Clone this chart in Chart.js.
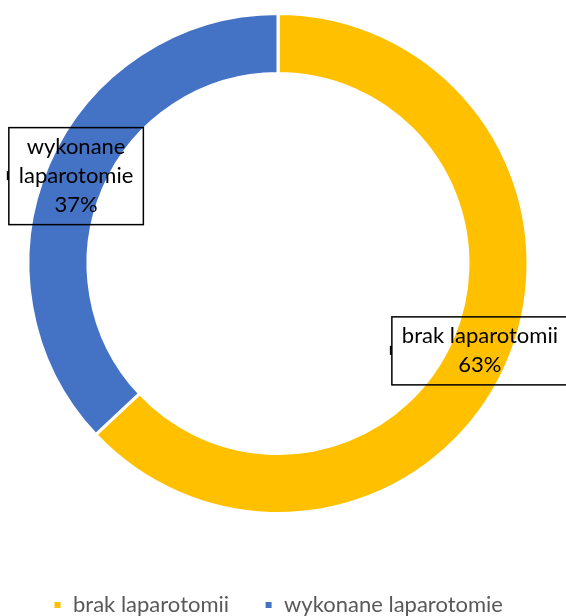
<!DOCTYPE html>
<html>
<head>
<meta charset="utf-8">
<script src="https://cdn.jsdelivr.net/npm/chart.js@4"></script>
<style>
  html, body { margin: 0; padding: 0; background: #fff; }
  #wrap { width: 566px; height: 616px; }
</style>
</head>
<body>
<div id="wrap"><canvas id="laparotomie" width="566" height="616"></canvas></div>
<script>
const categories = ['brak laparotomii', 'wykonane laparotomie'];
const values = [63, 37];
const colors = ['#FFC000', '#4472C4'];

const FONT = 'Lato, "Open Sans", sans-serif';

// wrap a label into lines no wider than maxW
function wrap(ctx, text, maxW) {
    const words = text.split(' ');
    const lines = [];
    let cur = '';
    words.forEach(w => {
        const t = cur ? cur + ' ' + w : w;
        if (ctx.measureText(t).width > maxW && cur) {
            lines.push(cur);
            cur = w;
        } else {
            cur = t;
        }
    });
    if (cur) lines.push(cur);
    return lines;
}

// boxed data labels centred on each slice
const boxLabels = {
    id: 'boxLabels',
    afterDatasetsDraw(chart) {
        const ctx = chart.ctx;
        const meta = chart.getDatasetMeta(0);
        const data = chart.data.datasets[0].data;
        const total = data.reduce((a, b) => a + b, 0);
        ctx.save();
        ctx.font = '22px ' + FONT;
        ctx.textAlign = 'center';
        ctx.textBaseline = 'middle';
        meta.data.forEach((arc, i) => {
            const pos = arc.tooltipPosition();
            const lines = wrap(ctx, chart.data.labels[i], 170);
            lines.push(Math.round(data[i] / total * 100) + '%');
            const lh = 29;
            const w = Math.max(...lines.map(l => ctx.measureText(l).width)) + 20;
            const h = lines.length * lh + 10;
            const x0 = pos.x - w / 2, y0 = pos.y - h / 2;
            ctx.strokeStyle = '#000';
            ctx.lineWidth = 1.5;
            ctx.strokeRect(x0, y0, w, h);
            ctx.fillStyle = '#000';
            ctx.fillRect(x0 - 2, pos.y - 5, 2, 9);
            lines.forEach((l, k) => {
                ctx.fillText(l, pos.x, y0 + 5 + lh * (k + 0.5));
            });
        });
        ctx.restore();
    }
};

const ctx = document.getElementById('laparotomie').getContext('2d');
new Chart(ctx, {
    type: 'doughnut',
    data: {
        labels: categories,
        datasets: [{
            data: values,
            backgroundColor: colors,
            borderColor: '#fff',
            borderWidth: 3
        }]
    },
    options: {
        responsive: false,
        animation: false,
        cutout: '76%',
        layout: { padding: { top: 12, left: 0, right: 10, bottom: -10 } },
        plugins: {
            tooltip: { enabled: false },
            legend: {
                position: 'bottom',
                title: {
                    display: true,
                    text: '',
                    font: { size: 10 },
                    padding: { top: 32, bottom: 0 }
                },
                labels: {
                    boxWidth: 9,
                    boxHeight: 9,
                    padding: 35,
                    color: '#595959',
                    font: { family: FONT, size: 22 }
                }
            }
        }
    },
    plugins: [boxLabels]
});
</script>
</body>
</html>
